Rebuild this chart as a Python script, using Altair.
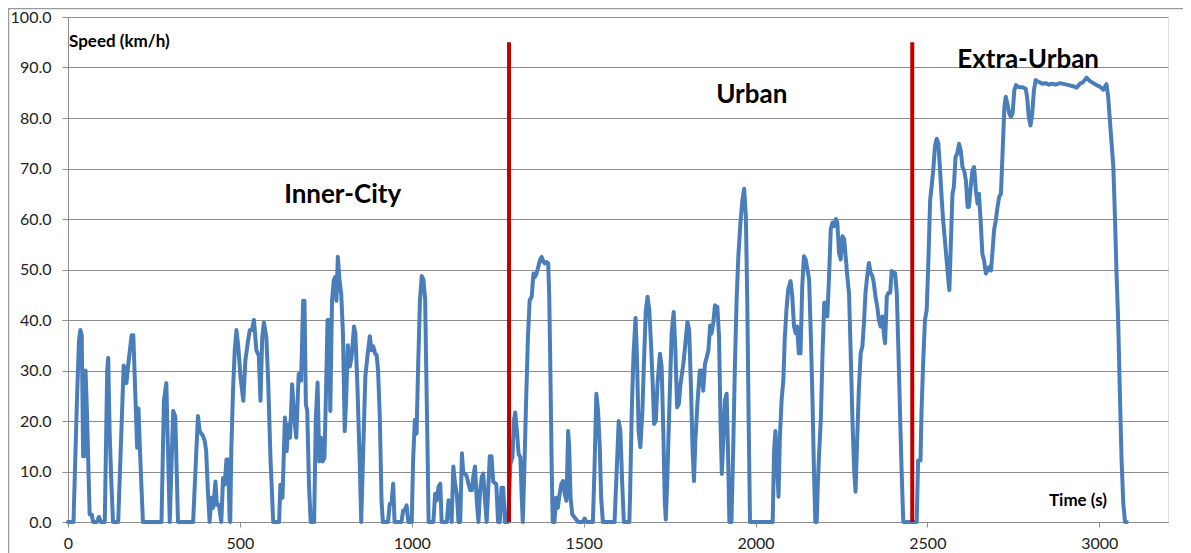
import altair as alt
import pandas as pd

# ---- data ----
times = [0, 16, 26, 32, 36, 40, 44, 47, 51, 55, 63, 69, 73, 84, 90, 96, 107, 114, 117, 121, 126, 131,
         146, 162, 170, 175, 185, 190, 197, 201, 205, 209, 218, 272, 279, 286, 291, 296, 306, 312, 320,
         364, 378, 383, 393, 398, 402, 407, 412, 417, 422, 429, 433, 439, 446, 451, 456, 461, 466, 470, 472,
         475, 480, 485, 490, 495, 502, 510, 516, 524, 529, 535, 541, 548, 555, 560, 565, 570, 577, 582, 589,
         597, 614, 618, 624, 631, 636, 641, 646, 652, 658, 664, 671, 678, 684, 688, 692, 696, 701, 706, 716,
         721, 726, 731, 736, 741, 746, 750, 755, 760, 763, 768, 773, 777, 781, 785, 790, 795, 800, 805, 809,
         814, 820, 825, 832, 836, 842, 849, 853, 858, 865, 871, 878, 883, 888, 893, 898, 902, 907, 912, 916,
         931, 936, 941, 946, 950, 970, 975, 980, 985, 990, 1000, 1004, 1009, 1014, 1019, 1024, 1029, 1034,
         1039, 1042, 1046, 1049, 1063, 1068, 1073, 1078, 1083, 1087, 1102, 1107, 1112, 1116, 1121, 1126,
         1131, 1136, 1141, 1146, 1150, 1155, 1160, 1165, 1170, 1175, 1179, 1184, 1189, 1194, 1199, 1204,
         1208, 1213, 1218, 1227, 1232, 1237, 1246, 1251, 1256, 1261, 1266, 1271, 1280, 1287, 1293, 1297,
         1301, 1306, 1311, 1316, 1320, 1323, 1328, 1333, 1338, 1343, 1349, 1354, 1358, 1363, 1368, 1373,
         1378, 1383, 1387, 1392, 1397, 1400, 1403, 1407, 1410, 1415, 1420, 1425, 1430, 1435, 1440, 1445,
         1450, 1455, 1458, 1462, 1467, 1474, 1484, 1498, 1503, 1508, 1527, 1532, 1537, 1542, 1547, 1551,
         1556, 1590, 1597, 1602, 1607, 1612, 1617, 1633, 1635, 1640, 1645, 1651, 1655, 1660, 1665, 1671,
         1675, 1681, 1686, 1691, 1696, 1701, 1705, 1710, 1715, 1722, 1727, 1732, 1736, 1739, 1743, 1749,
         1756, 1762, 1767, 1772, 1777, 1782, 1790, 1796, 1802, 1807, 1812, 1817, 1821, 1825, 1831, 1838,
         1843, 1848, 1853, 1858, 1863, 1868, 1872, 1877, 1882, 1889, 1894, 1898, 1902, 1906, 1911, 1916,
         1920, 1924, 1930, 1935, 1940, 1945, 1950, 1956, 1962, 1967, 1972, 1976, 1980, 1984, 2050, 2054,
         2058, 2062, 2067, 2071, 2076, 2081, 2085, 2090, 2095, 2102, 2107, 2112, 2117, 2121, 2126, 2131,
         2136, 2141, 2146, 2151, 2156, 2161, 2166, 2170, 2174, 2178, 2181, 2185, 2190, 2195, 2200, 2204,
         2209, 2214, 2219, 2224, 2229, 2234, 2238, 2243, 2248, 2253, 2258, 2263, 2267, 2272, 2277, 2282,
         2287, 2291, 2296, 2301, 2306, 2311, 2316, 2320, 2325, 2330, 2335, 2340, 2344, 2349, 2354, 2359,
         2364, 2369, 2374, 2377, 2382, 2387, 2392, 2396, 2401, 2406, 2411, 2416, 2421, 2425, 2430, 2469,
         2473, 2480, 2483, 2488, 2493, 2498, 2503, 2508, 2512, 2517, 2522, 2527, 2532, 2537, 2542, 2546,
         2551, 2556, 2561, 2564, 2568, 2573, 2577, 2582, 2587, 2592, 2597, 2602, 2607, 2612, 2617, 2621,
         2626, 2631, 2636, 2641, 2646, 2650, 2655, 2660, 2665, 2670, 2675, 2680, 2685, 2689, 2694, 2699,
         2704, 2709, 2714, 2719, 2724, 2728, 2733, 2738, 2743, 2748, 2753, 2758, 2766, 2776, 2786, 2790,
         2795, 2800, 2805, 2810, 2815, 2825, 2834, 2844, 2854, 2863, 2873, 2886, 2905, 2924, 2934, 2944,
         2953, 2963, 2973, 2983, 2992, 3002, 3012, 3021, 3026, 3031, 3036, 3041, 3046, 3050, 3055, 3060,
         3065, 3070, 3075, 3080]

speeds = [0, 0, 24, 36, 38, 37, 13, 13, 30, 22, 1.5, 1.5, 0, 0, 1, 0, 0, 30, 32.5, 18, 8, 0,
          0, 31, 27.5, 31, 37, 37, 23, 14.7, 22.5, 14.7, 0, 0, 24, 27.5, 14, 0, 22, 21, 0,
          0, 21, 18, 17, 16, 14, 6, 0, 4.8, 2.8, 8, 3.4, 3.4, 0, 8.7, 7.4, 12.4, 12.4, 0.8, 0,
          14, 26, 34, 38, 35, 28.6, 24, 32, 36, 38, 38, 40, 34, 33, 24, 36.6, 39.5, 36.5, 28.6, 12.7,
          0, 0, 7.4, 4.8, 20.7, 14, 19.3, 16.7, 27.3, 20.7, 16.7, 29.3, 28, 43.8, 43.8, 23.3, 22, 7.4, 0, 0,
          20.7, 27.6, 12, 16.7, 12, 12.7, 24, 40, 40, 22, 43.8, 47.8, 48.5, 43.8, 52.5, 47.8, 45, 37, 18, 24,
          35, 30.8, 32.8, 38.7, 37.4, 26.8, 11, 0, 12.3, 28.8, 32.8, 36.8, 34, 34.8, 33.4, 33, 30, 20.9, 4.3, 0,
          0, 3.6, 3.6, 7.6, 0, 0, 2.3, 2.3, 3.3, 0, 0, 12.3, 20.2, 17.5, 32, 44, 48.7, 48,
          44, 30.8, 14.2, 0, 0, 5.6, 4.3, 7, 7.6, 0, 0, 4.3, 2.3, 0, 11, 7.6,
          5.6, 0, 0, 13.6, 9.6, 9.6, 9, 7.6, 6.3, 6.3, 9, 11, 4.3, 0, 6.3, 9,
          9.6, 4.3, 0, 13, 13, 8, 7.5, 0, 0, 6.8, 6.8, 0, 0, 11.5, 12.8, 20,
          21.7, 18, 13.4, 12.8, 4.8, 0, 11.5, 24.7, 36.6, 43.9, 44.6, 49.2, 48.5, 49.2, 50.5, 51.9,
          52.5, 51.5, 51.2, 51.5, 51.2, 44.6, 31.3, 11.5, 0, 0, 4.8, 2.8, 5.5, 7.5, 8.1, 5.5,
          4.2, 18, 14.8, 4.8, 1.5, 0.9, 0, 0, 0.7, 0, 0, 11.5, 25.4, 22, 14.8, 4.8,
          0, 0, 11.5, 20, 18, 8, 0, 0, 5, 22, 33, 40.4, 33, 18, 14.8, 22,
          30.7, 42, 44.6, 42, 35.3, 27.4, 19.4, 20, 27.4, 33.3, 30.7, 17.4, 4.2, 0.5, 7.5, 22,
          37.3, 41.6, 34, 22.7, 23.4, 27.4, 31.3, 35.3, 39.6, 38, 27.4, 14.1, 8.1, 16, 23.4, 30,
          30, 26, 31.3, 32.6, 34, 38.9, 37.3, 39.3, 42.9, 42.6, 36.6, 20.7, 9.5, 15.4, 24, 25.4,
          14.1, 0, 0, 14.1, 30.7, 43.9, 52.5, 59.1, 63.8, 66, 60.5, 43.9, 20.7, 0, 0, 14,
          18, 12, 5, 16.9, 24.2, 28.1, 36.1, 42, 46, 47.7, 44.7, 38.7, 37.4, 38.7, 33.4, 33.4,
          46.7, 52.6, 52, 50, 48, 36.8, 23.5, 10.3, 0, 0, 7, 13.6, 20.2, 33.4, 43.4, 43.4,
          40.7, 48.7, 58, 59.3, 58.6, 60, 59.3, 53.3, 52, 56.6, 56, 52, 48.7, 45.4, 33.4, 20.2,
          10.3, 6, 16.9, 26.8, 33.4, 34.8, 40, 45.4, 48.7, 51.3, 49.3, 48.7, 47.4, 44.7, 42.7, 40,
          38.7, 40.7, 36.8, 35.4, 44.7, 45.4, 45.4, 49.7, 49.3, 49.3, 45.4, 33.4, 20.2, 10.3, 0, 0,
          12.2, 12.2, 22, 32, 40, 42, 51.8, 63.7, 66.3, 69.6, 74.3, 75.9, 74.9, 69.6, 63.7, 59.7,
          55.8, 51.8, 47.9, 45.9, 54.5, 65, 66.3, 72.3, 73, 74.9, 73.6, 70.3, 69.6, 67.7, 62.4, 62.4,
          66.3, 69.6, 70.3, 65.7, 63, 65, 59.7, 53.1, 51.8, 49.2, 49.8, 50.5, 49.8, 53.1, 57.8, 59.7,
          62.4, 64.4, 65, 73.6, 82.2, 84.2, 82.8, 80.9, 80.2, 80.9, 85.5, 86.5, 86.1, 86.1, 85.8, 84.2,
          80.2, 78.5, 80.9, 85.5, 87.5, 87.1, 86.8, 86.9, 86.6, 86.8, 86.6, 86.9, 86.6, 86.3, 86, 86.8,
          87.1, 88, 87.3, 86.9, 86.5, 86.2, 85.6, 86.7, 84.2, 79.5, 74.9, 70.3, 59.7, 49.8, 40, 25.4,
          12.2, 3.6, 0, 0]

phase_bounds = [1283, 2456]
phase_top = 95

region_labels = ["Inner-City", "Urban", "Extra-Urban"]
region_t = [799, 1989, 2793]
region_v = [64.7, 84.5, 91.4]

x_ticks = [0, 500, 1000, 1500, 2000, 2500, 3000]
y_ticks = [0, 10, 20, 30, 40, 50, 60, 70, 80, 90, 100]

FONT = "Lato"
GRID = "#8c8c8c"

df = pd.DataFrame({"t": times, "v": speeds})
bounds_df = pd.DataFrame({"t": phase_bounds, "y0": [0, 0], "y1": [phase_top, phase_top]})
regions_df = pd.DataFrame({"label": region_labels, "t": region_t, "v": region_v})

xscale = alt.Scale(domain=[0, 3200], nice=False, zero=False)
yscale = alt.Scale(domain=[0, 100], nice=False)

base = alt.Chart(df)

line = base.mark_line(color="#4a7ebb", strokeWidth=4, strokeJoin="round", strokeCap="round").encode(
    x=alt.X("t:Q", scale=xscale,
            axis=alt.Axis(values=x_ticks, format="d", title=None, grid=False, labelFontSize=16,
                          labelFont=FONT, labelColor="#222", domainColor=GRID, tickColor=GRID,
                          tickSize=5, labelPadding=8, labelFlush=False)),
    y=alt.Y("v:Q", scale=yscale,
            axis=alt.Axis(values=y_ticks, format=".1f", title=None, grid=True, gridColor=GRID,
                          gridWidth=1, labelFontSize=16, labelFont=FONT, labelColor="#222",
                          domainColor=GRID, tickColor=GRID, tickSize=6, labelPadding=11)),
)

rules = alt.Chart(bounds_df).mark_rule(color="#c00000", strokeWidth=4).encode(
    x=alt.X("t:Q", scale=xscale), y=alt.Y("y0:Q", scale=yscale), y2="y1:Q"
)

region_text = alt.Chart(regions_df).mark_text(
    font=FONT, fontSize=26, fontWeight="bold", color="#000", align="center", baseline="middle"
).encode(x=alt.X("t:Q", scale=xscale), y=alt.Y("v:Q", scale=yscale), text="label:N")

ylab = alt.Chart(pd.DataFrame({"label": ["Speed (km/h)"], "t": [0], "v": [95]})).mark_text(
    font=FONT, fontSize=17, fontWeight="bold", color="#000", align="left", baseline="middle", dx=1
).encode(x=alt.X("t:Q", scale=xscale), y=alt.Y("v:Q", scale=yscale), text="label:N")

xlab = alt.Chart(pd.DataFrame({"label": ["Time (s)"], "t": [2938], "v": [4.2]})).mark_text(
    font=FONT, fontSize=17, fontWeight="bold", color="#000", align="center", baseline="middle"
).encode(x=alt.X("t:Q", scale=xscale), y=alt.Y("v:Q", scale=yscale), text="label:N")

frame = alt.Chart(pd.DataFrame({"a": [0]})).mark_rect(
    fillOpacity=0, stroke="#999999", strokeWidth=1.5
).encode(x=alt.value(-59.5), x2=alt.value(1300), y=alt.value(-8.5), y2=alt.value(700))

chart = alt.layer(frame, line, rules, region_text, ylab, xlab).properties(
    width=1100, height=505,
    autosize=alt.AutoSizeParams(type="none"),
    padding={"left": 60, "top": 9, "right": 15, "bottom": 31},
).configure_view(stroke=None).configure(background="white")

chart.save("out.html", embed_options={"renderer": "svg", "actions": False})
